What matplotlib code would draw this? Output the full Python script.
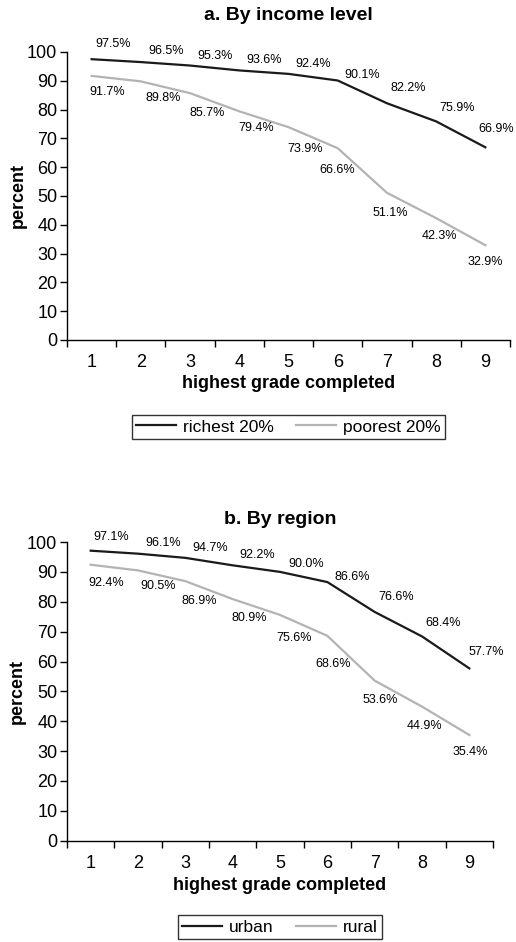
import numpy as np
import matplotlib.pyplot as plt

plt.rcParams['font.family'] = ['Liberation Sans', 'DejaVu Sans']

# data
grades = [1, 2, 3, 4, 5, 6, 7, 8, 9]
richest = [97.5, 96.5, 95.3, 93.6, 92.4, 90.1, 82.2, 75.9, 66.9]
poorest = [91.7, 89.8, 85.7, 79.4, 73.9, 66.6, 51.1, 42.3, 32.9]
urban = [97.1, 96.1, 94.7, 92.2, 90.0, 86.6, 76.6, 68.4, 57.7]
rural = [92.4, 90.5, 86.9, 80.9, 75.6, 68.6, 53.6, 44.9, 35.4]

# label offsets in pixels (x right, y up)
off_richest = [(22, 15), (25, 11), (25, 10), (25, 10), (25, 10), (24, 6), (21, 15), (21, 13), (11, 18)]
off_poorest = [(16, -16), (22, -17), (17, -20), (17, -17), (17, -22), (-1, -22), (3, -20), (3, -18), (0, -17)]
off_urban = [(21, 14), (25, 11), (25, 10), (25, 10), (26, 8), (25, 5), (21, 15), (21, 13), (17, 16)]
off_rural = [(16, -18), (20, -16), (14, -20), (17, -19), (14, -23), (6, -28), (6, -19), (3, -19), (1, -17)]

dark = '#1a1a1a'
light = '#b3b3b3'


def panel(ax, title, top, bottom, off_top, off_bot, names, title_y, leg_y, lab_x):
    ax.plot(grades, top, color=dark, lw=1.6, label=names[0])
    ax.plot(grades, bottom, color=light, lw=1.6, label=names[1])
    for x, v, o in zip(grades, top, off_top):
        ax.annotate(f'{v:.1f}%', (x, v), xytext=o, textcoords='offset pixels',
                    ha='center', va='center', fontsize=9, annotation_clip=False)
    for x, v, o in zip(grades, bottom, off_bot):
        ax.annotate(f'{v:.1f}%', (x, v), xytext=o, textcoords='offset pixels',
                    ha='center', va='center', fontsize=9, annotation_clip=False)
    ax.set_xlim(0.5, 9.5)
    ax.set_ylim(0, 100)
    ax.set_yticks(np.arange(0, 101, 10))
    ax.set_xticks(grades)
    ax.set_xticks(np.arange(0.5, 9.6, 1), minor=True)
    ax.tick_params(axis='x', which='major', length=0, pad=10, labelsize=13)
    ax.tick_params(axis='x', which='minor', length=5, width=1)
    ax.tick_params(axis='y', length=5, width=1, pad=2, labelsize=13)
    for s in ['top', 'right']:
        ax.spines[s].set_visible(False)
    for s in ['left', 'bottom']:
        ax.spines[s].set_linewidth(1)
    ax.text(0.5, title_y, title, transform=ax.transAxes, ha='center', va='center',
            fontsize=14, fontweight='bold')
    ax.set_xlabel('highest grade completed', fontsize=13, fontweight='bold', va='center')
    ax.xaxis.set_label_coords(0.5, -0.15)
    ax.set_ylabel('percent', fontsize=13, fontweight='bold', va='center')
    ax.yaxis.set_label_coords(lab_x, 0.5)
    leg = ax.legend(loc='center', bbox_to_anchor=(0.5, leg_y), ncol=2, fontsize=12.5,
                    frameon=True, fancybox=False, edgecolor='black', handlelength=2.3,
                    handletextpad=0.4, columnspacing=1.3, borderpad=0.25)
    leg.get_frame().set_linewidth(1)


fig = plt.figure(figsize=(5.16, 9.42), dpi=100)
ax1 = fig.add_axes([67 / 516, 0.6391, 443 / 516, 0.3057])
ax2 = fig.add_axes([67 / 516, 0.1075, 426 / 516, 0.3171])

panel(ax1, 'a. By income level', richest, poorest, off_richest, off_poorest,
      ['richest 20%', 'poorest 20%'], 1.128, -0.302, -0.111)
panel(ax2, 'b. By region', urban, rural, off_urban, off_rural,
      ['urban', 'rural'], 1.077, -0.29, -0.117)

fig.savefig('out.png', dpi=100)
